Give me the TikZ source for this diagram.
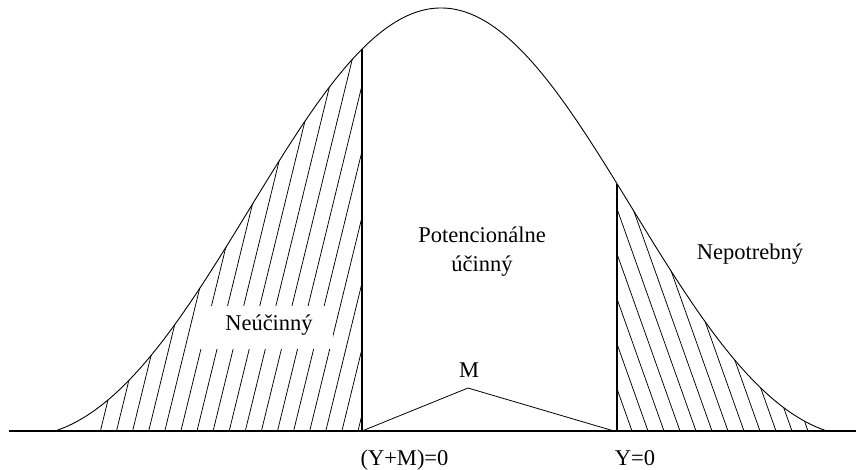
\documentclass[tikz,border=0pt]{standalone}
\usepackage{fontspec}
\setmainfont{Liberation Serif}
\tikzset{
  curve/.style={line width=0.9pt},
  vline/.style={line width=1.3pt},
  hatch/.style={line width=0.75pt},
  axis/.style={line width=1.1pt},
  mline/.style={line width=0.8pt},
  lbl/.style={font=\fontsize{22.5}{28}\selectfont, inner sep=0pt, anchor=base},
}
\begin{document}
\begin{tikzpicture}[x=1pt,y=1pt,
  declare function={uu(\t)=(\t-441)/386; bell(\t)=38+423*(0.5*pow(cos(90*uu(\t)),2)+0.5*(exp(-2.0637*uu(\t)*uu(\t))-0.127)/0.873);}]
\useasboundingbox (0,0) rectangle (856,469);
% axis
\coordinate (axL) at (9,38);
\coordinate (axR) at (856,38);
\draw[axis] (axL) -- (axR);
% hatching left
\begin{scope}
  \clip plot[domain=55:362,samples=120] (\x,{bell(\x)}) -- (362,38) -- cycle;
  \foreach \k in {0,...,16} {
    \draw[hatch] ({358-16.1*\k},38) -- ++(110,450);
  }
\end{scope}
% hatching right
\begin{scope}
  \clip (617,38) -- plot[domain=617:827,samples=120] (\x,{bell(\x)}) -- cycle;
  \foreach \k in {0,...,11} {
    \draw[hatch] ({632+16*\k},38) -- ++(-160,450);
  }
\end{scope}
% bell curve
\draw[curve] plot[domain=55:827,samples=220,smooth] (\x,{bell(\x)});
% verticals
\coordinate (L0) at (362,38);
\coordinate (Ltop) at (362,{bell(362)});
\coordinate (R0) at (617,38);
\coordinate (Rtop) at (617,{bell(617)});
\draw[vline] (L0) -- (Ltop);
\draw[vline] (R0) -- (Rtop);
% M triangle
\coordinate (Mpk) at (468,81);
\coordinate (Mend) at (614,38);
\draw[mline] (L0) -- (Mpk) -- (Mend);
% labels
\fill[white] (200,120) rectangle (333,163);
\node[lbl] (neu) at (269,139) {Neúčinný};
\node[lbl] (pot1) at (482,226) {Potencionálne};
\node[lbl] (pot2) at (482,197) {účinný};
\node[lbl] (nep) at (750,209) {Nepotrebný};
\node[lbl] (mlab) at (469,92) {M};
\node[lbl] (ym) at (404.5,4) {(Y+M)=0};
\node[lbl] (y0) at (635,4) {Y=0};
\end{tikzpicture}
\end{document}
